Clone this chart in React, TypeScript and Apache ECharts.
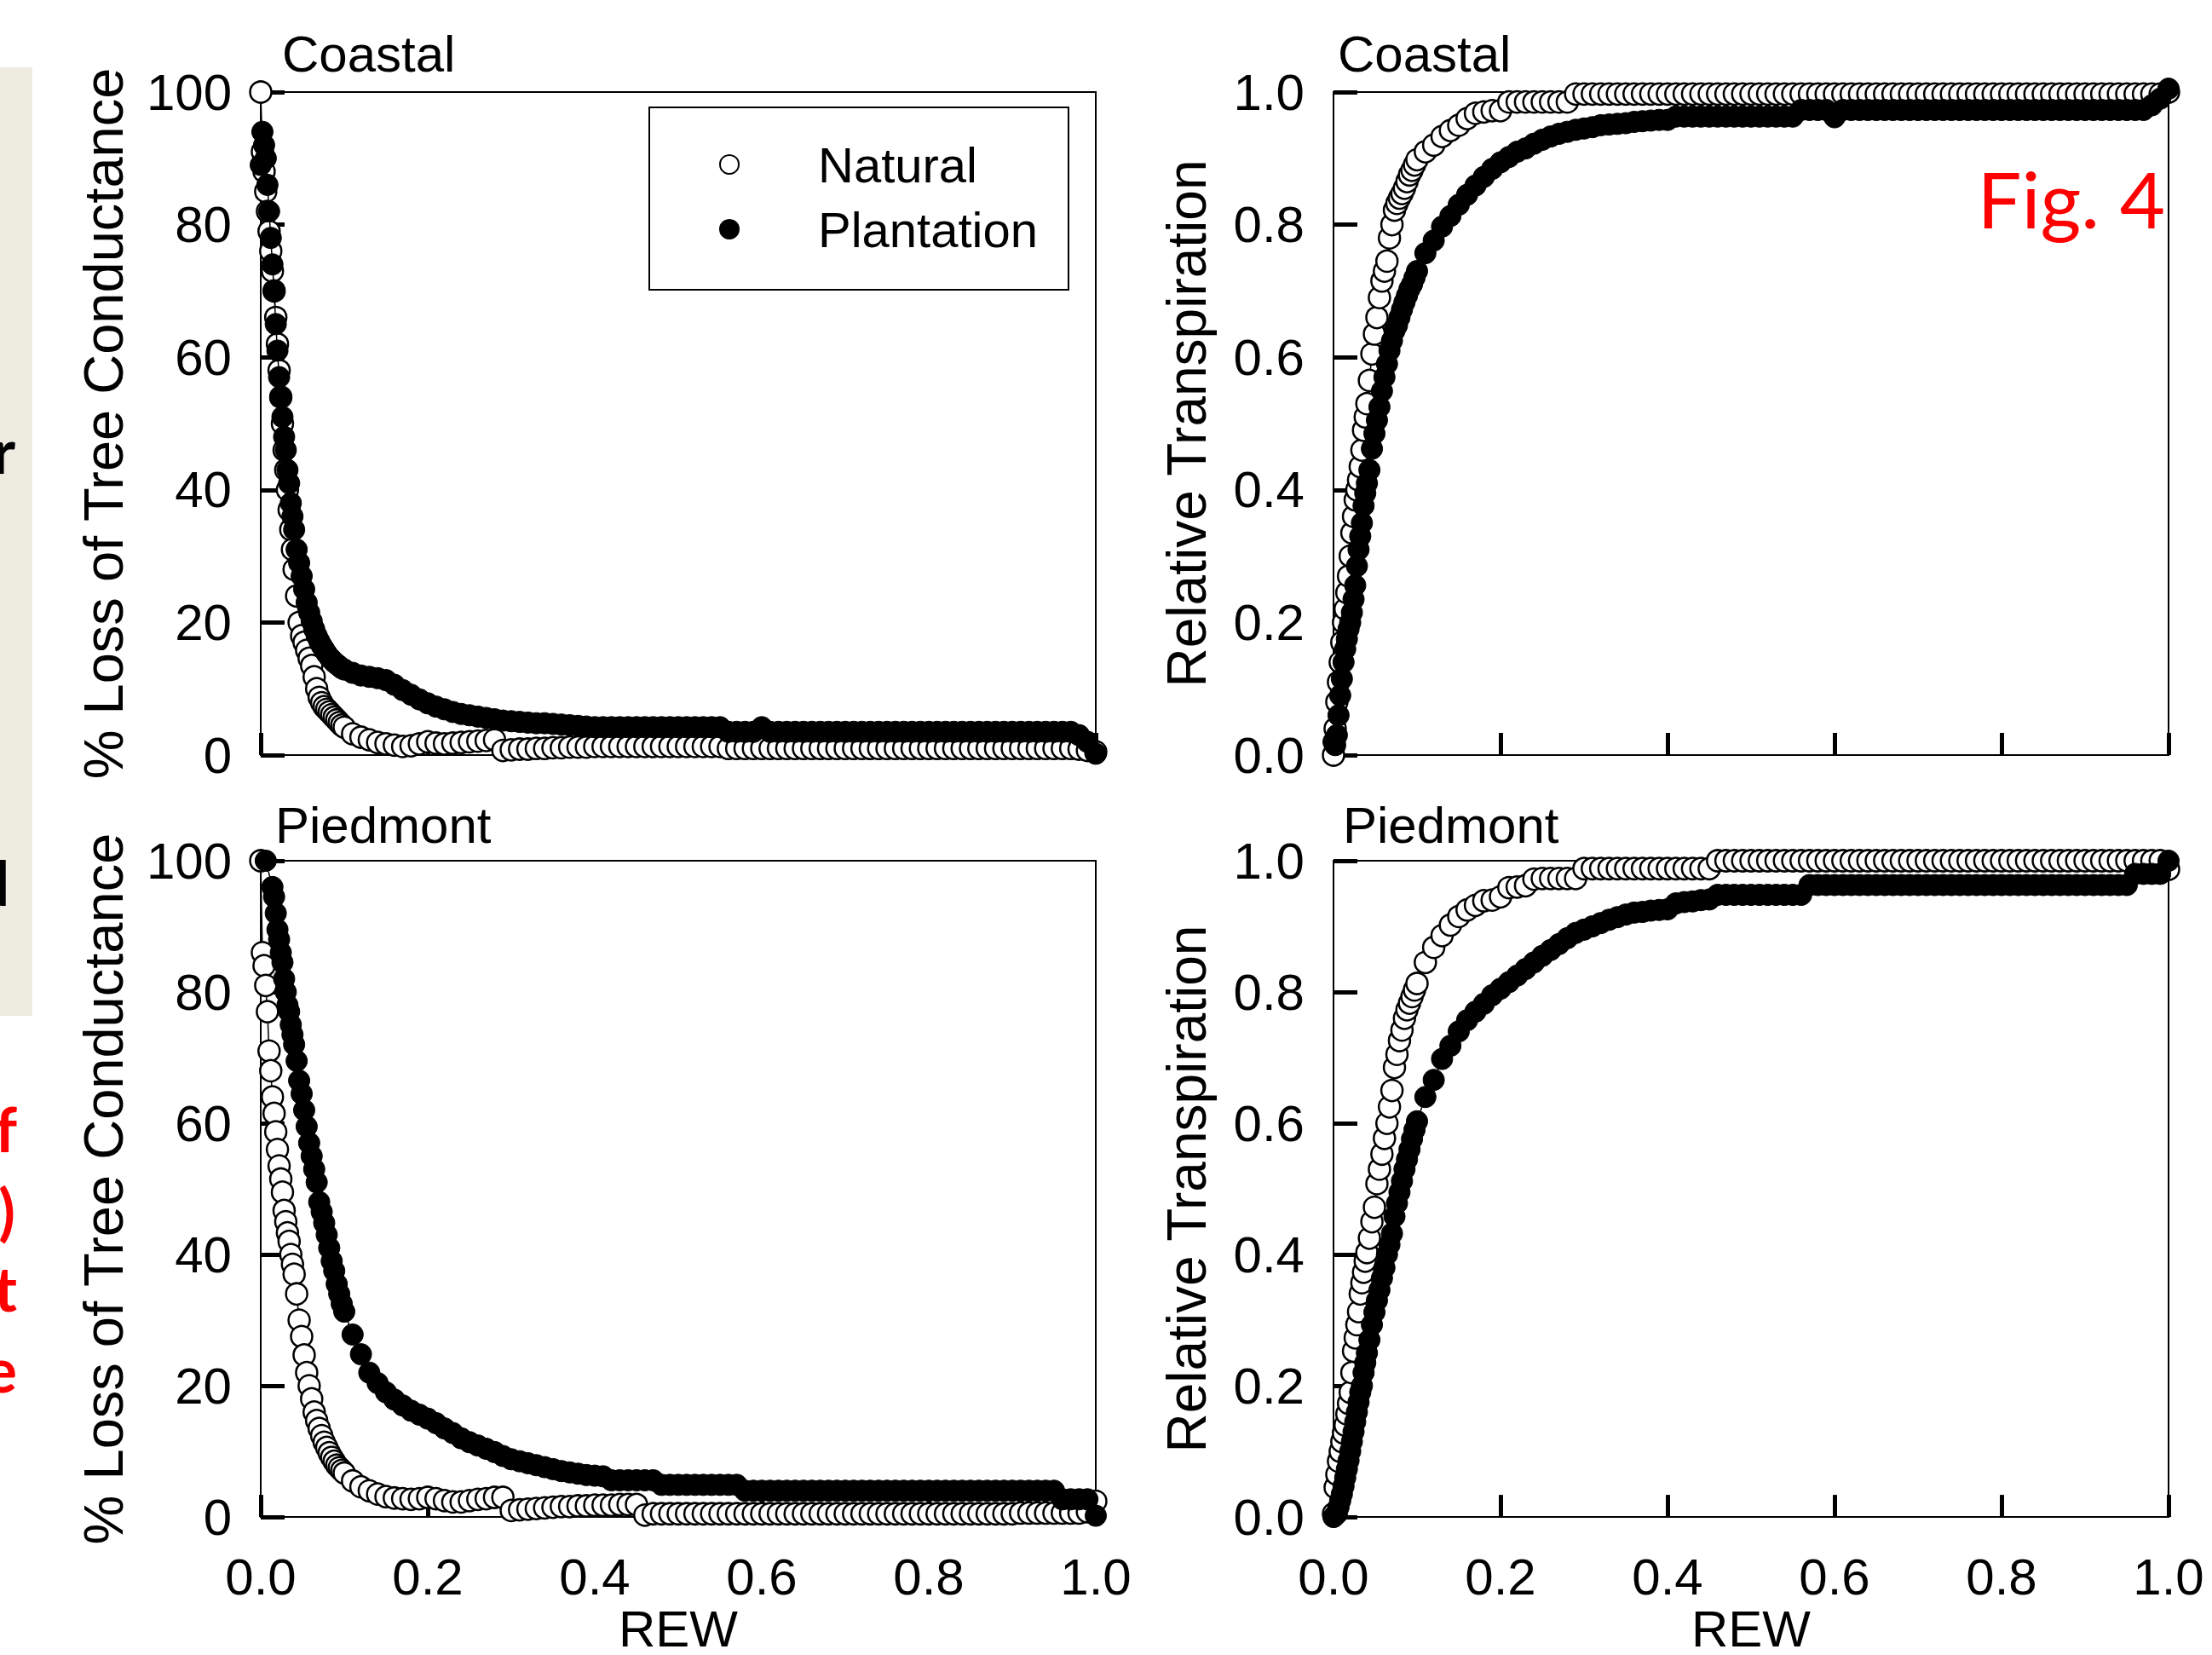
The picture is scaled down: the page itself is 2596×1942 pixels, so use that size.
import React, { useEffect, useRef } from "react";
import * as echarts from "echarts";

// Shared REW sampling grid (x values)
const REW_GRID: number[] = [
  0, 0.002, 0.004, 0.006, 0.008, 0.01, 0.012, 0.014, 0.016, 0.018, 0.02, 0.022, 0.024, 0.026, 0.028, 0.03, 0.032, 0.034, 0.036, 0.038, 0.04,
  0.043, 0.046, 0.049, 0.052, 0.055, 0.058, 0.061, 0.064, 0.067, 0.07, 0.073, 0.076, 0.079, 0.082, 0.085, 0.088, 0.091, 0.094, 0.097, 0.1,
  0.11, 0.12, 0.13, 0.14, 0.15, 0.16, 0.17, 0.18, 0.19, 0.2,
  0.21, 0.22, 0.23, 0.24, 0.25, 0.26, 0.27, 0.28, 0.29, 0.3,
  0.31, 0.32, 0.33, 0.34, 0.35, 0.36, 0.37, 0.38, 0.39, 0.4,
  0.41, 0.42, 0.43, 0.44, 0.45, 0.46, 0.47, 0.48, 0.49, 0.5,
  0.51, 0.52, 0.53, 0.54, 0.55, 0.56, 0.57, 0.58, 0.59, 0.6,
  0.61, 0.62, 0.63, 0.64, 0.65, 0.66, 0.67, 0.68, 0.69, 0.7,
  0.71, 0.72, 0.73, 0.74, 0.75, 0.76, 0.77, 0.78, 0.79, 0.8,
  0.81, 0.82, 0.83, 0.84, 0.85, 0.86, 0.87, 0.88, 0.89, 0.9,
  0.91, 0.92, 0.93, 0.94, 0.95, 0.96, 0.97, 0.98, 0.99, 1.0,
];

// % Loss of Tree Conductance — Coastal
const coastalNaturalLoss: (number | null)[] = [
  100, 91, 88, 85, 82, 79, 76, 73, 70, 66, 62, 58, 54, 50, 46, 43, 40, 37, 34, 31, 28,
  24, 20, 18, 17, 15.8, 14.6, 13.5, 11.8, 10, 8.7, 7.9, 7.3, 6.9, 6.5, 6.1, 5.7, 5.3, 4.9, 4.5, 4.2,
  3.2, 2.7, 2.3, 1.9, 1.7, 1.5, 1.3, 1.4, 1.7, 2.0,
  1.8, 1.7, 1.8, 1.9, 2.0, 2.1, 2.2, 2.3, 0.7, 0.8,
  0.9, 0.9, 1.0, 1.0, 1.1, 1.1, 1.2, 1.2, 1.2, 1.3,
  1.3, 1.3, 1.3, 1.3, 1.3, 1.3, 1.3, 1.3, 1.3, 1.3,
  1.3, 1.3, 1.3, 1.3, 1.3, 1.0, 1.0, 1.0, 1.0, 1.0,
  1.0, 1.0, 1.0, 1.0, 1.0, 1.0, 1.0, 1.0, 1.0, 1.0,
  1.0, 1.0, 1.0, 1.0, 1.0, 1.0, 1.0, 1.0, 1.0, 1.0,
  1.0, 1.0, 1.0, 1.0, 1.0, 1.0, 1.0, 1.0, 1.0, 1.0,
  1.0, 1.0, 1.0, 1.0, 1.0, 1.0, 1.0, 0.9, 0.7, 0.5,
];
const coastalPlantationLoss: (number | null)[] = [
  89, 94, 92, 90, 86, 82, 78, 74, 70, 65, 61, 57, 54, 51, 48, 46, 43, 41, 38, 36, 34,
  31, 29, 27, 25, 23, 21.5, 20.2, 19, 18, 17.2, 16.5, 15.9, 15.3, 14.8, 14.4, 14, 13.7, 13.4, 13.1, 12.9,
  12.4, 12.0, 11.8, 11.6, 11.3, 10.6, 9.8, 9.1, 8.4, 7.8,
  7.3, 6.9, 6.5, 6.2, 6.0, 5.8, 5.6, 5.4, 5.2, 5.1,
  5.0, 4.9, 4.8, 4.8, 4.7, 4.6, 4.5, 4.4, 4.3, 4.2,
  4.2, 4.2, 4.2, 4.2, 4.2, 4.2, 4.2, 4.2, 4.2, 4.2,
  4.2, 4.2, 4.2, 4.2, 4.2, 3.5, 3.5, 3.5, 3.5, 4.2,
  3.5, 3.5, 3.5, 3.5, 3.5, 3.5, 3.5, 3.5, 3.5, 3.5,
  3.5, 3.5, 3.5, 3.5, 3.5, 3.5, 3.5, 3.5, 3.5, 3.5,
  3.5, 3.5, 3.5, 3.5, 3.5, 3.5, 3.5, 3.5, 3.5, 3.5,
  3.5, 3.5, 3.5, 3.5, 3.5, 3.5, 3.5, 3.0, 2.0, 0.2,
];

// % Loss of Tree Conductance — Piedmont
const piedmontNaturalLoss: (number | null)[] = [
  100, 86, 84, 81, 77, 71, 68, 64, 61.5, 58.7, 56, 53.5, 51.5, 49.5, 46.7, 45, 43.3, 42, 40, 38.5, 37,
  34, 30, 27.5, 24.7, 22, 20, 18, 16, 14.7, 13.5, 12.4, 11.4, 10.6, 9.8, 9.1, 8.5, 7.9, 7.5, 7.1, 6.7,
  5.5, 4.6, 4.0, 3.5, 3.1, 2.9, 2.8, 2.7, 2.8, 3.0,
  2.8, 2.5, 2.3, 2.3, 2.5, 2.7, 2.8, 3.0, 3.0, 1.0,
  1.1, 1.2, 1.3, 1.4, 1.5, 1.6, 1.6, 1.7, 1.7, 1.8,
  1.8, 1.8, 1.9, 1.9, 1.9, 0.3, 0.5, 0.5, 0.5, 0.5,
  0.5, 0.5, 0.5, 0.5, 0.5, 0.5, 0.5, 0.5, 0.5, 0.5,
  0.5, 0.5, 0.5, 0.5, 0.5, 0.5, 0.5, 0.5, 0.5, 0.5,
  0.5, 0.5, 0.5, 0.5, 0.5, 0.5, 0.5, 0.5, 0.5, 0.5,
  0.5, 0.5, 0.5, 0.5, 0.5, 0.5, 0.5, 0.5, 0.5, 0.5,
  0.6, 0.6, 0.6, 0.6, 0.6, 0.6, 0.6, 0.6, 0.8, 2.4,
];
const piedmontPlantationLoss: (number | null)[] = [
  null, null, null, 100, null, null, null, 96, 94.5, 92, 89.5, 88, 86, 84.5, 82, 80, 78, 77, 75, 73.5, 72,
  69.5, 66.5, 64.5, 62, 59.5, 57, 55, 53, 51, 48, 46.5, 44.8, 43, 41, 39, 37.5, 35.5, 34, 32.5, 31.3,
  27.8, 24.8, 22.0, 20.4, 19.0, 17.9, 17.0, 16.2, 15.6, 15.0,
  14.3, 13.5, 12.8, 12.0, 11.4, 10.9, 10.4, 9.9, 9.3, 8.8,
  8.5, 8.2, 7.9, 7.6, 7.3, 7.0, 6.8, 6.6, 6.4, 6.3,
  6.2, 5.6, 5.6, 5.6, 5.6, 5.6, 5.6, 4.9, 4.9, 4.9,
  4.9, 4.9, 4.9, 4.9, 4.9, 4.9, 4.9, 4.0, 4.0, 4.0,
  4.0, 4.0, 4.0, 4.0, 4.0, 4.0, 4.0, 4.0, 4.0, 4.0,
  4.0, 4.0, 4.0, 4.0, 4.0, 4.0, 4.0, 4.0, 4.0, 4.0,
  4.0, 4.0, 4.0, 4.0, 4.0, 4.0, 4.0, 4.0, 4.0, 4.0,
  4.0, 4.0, 4.0, 4.0, 4.0, 2.7, 2.7, 2.7, 2.7, 0.2,
];

// Relative Transpiration — Coastal
const coastalNaturalRT: (number | null)[] = [
  0.0, 0.04, 0.08, 0.11, 0.14, 0.17, 0.2, 0.22, 0.245, 0.27, 0.3, 0.335, 0.36, 0.385, 0.4, 0.415, 0.435, 0.46, 0.49, 0.51, 0.53,
  0.565, 0.605, 0.635, 0.66, 0.69, 0.715, 0.73, 0.745, 0.78, 0.8, 0.822, 0.832, 0.84, 0.847, 0.855, 0.865, 0.875, 0.882, 0.89, 0.898,
  0.91, 0.92, 0.933, 0.942, 0.95, 0.96, 0.968, 0.97, 0.972, 0.972,
  0.985, 0.985, 0.985, 0.985, 0.985, 0.985, 0.985, 0.985, 0.997, 0.997,
  0.997, 0.997, 0.997, 0.997, 0.997, 0.997, 0.997, 0.997, 0.997, 0.997,
  0.997, 0.997, 0.997, 0.997, 0.997, 0.997, 0.997, 0.997, 0.997, 0.997,
  0.997, 0.997, 0.997, 0.997, 0.997, 0.997, 0.997, 0.997, 0.997, 0.997,
  0.997, 0.997, 0.997, 0.997, 0.997, 0.997, 0.997, 0.997, 0.997, 0.997,
  0.997, 0.997, 0.997, 0.997, 0.997, 0.997, 0.997, 0.997, 0.997, 0.997,
  0.997, 0.997, 0.997, 0.997, 0.997, 0.997, 0.997, 0.997, 0.997, 0.997,
  0.997, 0.997, 0.997, 0.997, 0.997, 0.997, 0.997, 0.997, 0.997, 1.0,
];
const coastalPlantationRT: (number | null)[] = [
  0.02, 0.015, 0.03, 0.06, 0.09, 0.115, 0.14, 0.16, 0.175, 0.19, 0.2, 0.215, 0.235, 0.256, 0.285, 0.31, 0.33, 0.35, 0.376, 0.395, 0.41,
  0.43, 0.462, 0.485, 0.505, 0.525, 0.549, 0.57, 0.59, 0.61, 0.625, 0.64, 0.648, 0.66, 0.672, 0.683, 0.693, 0.703, 0.71, 0.72, 0.73,
  0.757, 0.776, 0.797, 0.813, 0.83, 0.845, 0.859, 0.872, 0.884, 0.894,
  0.902, 0.91, 0.915, 0.922, 0.928, 0.933, 0.937, 0.94, 0.943, 0.945,
  0.947, 0.95, 0.951, 0.952, 0.953, 0.955, 0.956, 0.957, 0.958, 0.958,
  0.963, 0.963, 0.963, 0.963, 0.963, 0.963, 0.963, 0.963, 0.963, 0.963,
  0.963, 0.963, 0.963, 0.963, 0.963, 0.973, 0.973, 0.973, 0.973, 0.962,
  0.973, 0.973, 0.973, 0.973, 0.973, 0.973, 0.973, 0.973, 0.973, 0.973,
  0.973, 0.973, 0.973, 0.973, 0.973, 0.973, 0.973, 0.973, 0.973, 0.973,
  0.973, 0.973, 0.973, 0.973, 0.973, 0.973, 0.973, 0.973, 0.973, 0.973,
  0.973, 0.973, 0.973, 0.973, 0.973, 0.973, 0.973, 0.98, 0.99, 1.005,
];

// Relative Transpiration — Piedmont
const piedmontNaturalRT: (number | null)[] = [
  0.005, 0.045, 0.065, 0.085, 0.1, 0.115, 0.128, 0.14, 0.157, 0.173, 0.19, 0.22, 0.253, 0.273, 0.293, 0.313, 0.34, 0.357, 0.373, 0.39, 0.403,
  0.425, 0.45, 0.472, 0.508, 0.53, 0.553, 0.577, 0.6, 0.625, 0.65, 0.685, 0.705, 0.726, 0.742, 0.76, 0.773, 0.783, 0.793, 0.803, 0.813,
  0.845, 0.868, 0.886, 0.902, 0.915, 0.925, 0.932, 0.939, 0.94, 0.945,
  0.959, 0.96, 0.962, 0.972, 0.973, 0.973, 0.973, 0.973, 0.973, 0.988,
  0.988, 0.988, 0.988, 0.988, 0.988, 0.988, 0.988, 0.988, 0.988, 0.988,
  0.988, 0.988, 0.988, 0.988, 0.988, 1.0, 1.0, 1.0, 1.0, 1.0,
  1.0, 1.0, 1.0, 1.0, 1.0, 1.0, 1.0, 1.0, 1.0, 1.0,
  1.0, 1.0, 1.0, 1.0, 1.0, 1.0, 1.0, 1.0, 1.0, 1.0,
  1.0, 1.0, 1.0, 1.0, 1.0, 1.0, 1.0, 1.0, 1.0, 1.0,
  1.0, 1.0, 1.0, 1.0, 1.0, 1.0, 1.0, 1.0, 1.0, 1.0,
  1.0, 1.0, 1.0, 1.0, 1.0, 1.0, 1.0, 1.0, 1.0, 0.987,
];
const piedmontPlantationRT: (number | null)[] = [
  0.0, 0.003, 0.005, 0.015, 0.025, 0.035, 0.047, 0.06, 0.073, 0.086, 0.1, 0.115, 0.13, 0.145, 0.16, 0.175, 0.19, 0.2, 0.22, 0.235, 0.25,
  0.27, 0.293, 0.312, 0.33, 0.346, 0.364, 0.38, 0.4, 0.415, 0.432, 0.458, 0.478, 0.495, 0.512, 0.53, 0.545, 0.56, 0.576, 0.59, 0.603,
  0.64, 0.666, 0.698, 0.718, 0.74, 0.757, 0.77, 0.782, 0.795, 0.805,
  0.815, 0.825, 0.835, 0.845, 0.855, 0.864, 0.873, 0.882, 0.89, 0.895,
  0.9, 0.905, 0.91, 0.914, 0.918, 0.921, 0.922, 0.924, 0.925, 0.926,
  0.935, 0.937, 0.938, 0.94, 0.941, 0.948, 0.948, 0.948, 0.948, 0.948,
  0.948, 0.948, 0.948, 0.948, 0.948, 0.948, 0.963, 0.963, 0.963, 0.963,
  0.963, 0.963, 0.963, 0.963, 0.963, 0.963, 0.963, 0.963, 0.963, 0.963,
  0.963, 0.963, 0.963, 0.963, 0.963, 0.963, 0.963, 0.963, 0.963, 0.963,
  0.963, 0.963, 0.963, 0.963, 0.963, 0.963, 0.963, 0.963, 0.963, 0.963,
  0.963, 0.963, 0.963, 0.963, 0.963, 0.98, 0.98, 0.98, 0.98, 1.0,
];

const PANEL_TITLES = ["Coastal", "Coastal", "Piedmont", "Piedmont"];
const X_NAME = "REW";
const Y_NAMES = ["% Loss of Tree Conductance", "Relative Transpiration"];

const FONT = "'Liberation Sans', Arial, sans-serif";

function toPoints(ys: (number | null)[]) {
  const out: number[][] = [];
  for (let i = 0; i < REW_GRID.length && i < ys.length; i++) {
    const y = ys[i];
    if (y !== null && y !== undefined) out.push([REW_GRID[i], y]);
  }
  return out;
}

export default function App() {
  const ref = useRef<HTMLDivElement>(null);

  useEffect(() => {
    if (!ref.current) return;
    const chart = echarts.init(ref.current, null, { renderer: "svg" });

    const grids = [
      { left: 306, top: 108, width: 980, height: 778 },
      { left: 1565, top: 108, width: 980, height: 778 },
      { left: 306, top: 1010, width: 980, height: 778 },
      { left: 1565, top: 1010, width: 980, height: 778 },
    ].map((g) => ({ ...g, show: true, borderColor: "#000", borderWidth: 2, backgroundColor: "transparent" }));

    const xAxes = [0, 1, 2, 3].map((i) => ({
      gridIndex: i,
      type: "value",
      min: 0,
      max: 1,
      interval: 0.2,
      splitLine: { show: false },
      axisLine: { show: true, lineStyle: { color: "#000", width: 2 } },
      axisTick: { show: true, inside: true, length: 26, lineStyle: { color: "#000", width: 5 } },
      axisLabel: {
        show: i >= 2,
        fontSize: 60,
        color: "#000",
        fontFamily: FONT,
        margin: 40,
        formatter: (v: number) => v.toFixed(1),
      },
      name: i >= 2 ? X_NAME : "",
      nameLocation: "middle",
      nameGap: 100,
      nameTextStyle: { fontSize: 60, color: "#000", fontFamily: FONT },
    }));

    const yAxes = [0, 1, 2, 3].map((i) => {
      const isLoss = i % 2 === 0;
      return {
        gridIndex: i,
        type: "value",
        min: 0,
        max: isLoss ? 100 : 1,
        interval: isLoss ? 20 : 0.2,
        splitLine: { show: false },
        axisLine: { show: true, lineStyle: { color: "#000", width: 2 } },
        axisTick: { show: true, inside: true, length: 28, lineStyle: { color: "#000", width: 5 } },
        axisLabel: {
          fontSize: 60,
          color: "#000",
          fontFamily: FONT,
          margin: 34,
          formatter: (v: number) => (isLoss ? String(Math.round(v)) : v.toFixed(1)),
        },
        name: isLoss ? Y_NAMES[0] : Y_NAMES[1],
        nameLocation: "middle",
        nameGap: isLoss ? 152 : 140,
        nameTextStyle: { fontSize: isLoss ? 65 : 64, color: "#000", fontFamily: FONT },
      };
    });

    const panels = [
      { nat: coastalNaturalLoss, pla: coastalPlantationLoss },
      { nat: coastalNaturalRT, pla: coastalPlantationRT },
      { nat: piedmontNaturalLoss, pla: piedmontPlantationLoss },
      { nat: piedmontNaturalRT, pla: piedmontPlantationRT },
    ];

    const series: any[] = [];
    panels.forEach((p, i) => {
      series.push({
        type: "line",
        name: "Natural",
        xAxisIndex: i,
        yAxisIndex: i,
        data: toPoints(p.nat),
        symbol: "circle",
        symbolSize: 25,
        showSymbol: true,
        clip: false,
        z: 3,
        lineStyle: { color: "#000", width: 1.5 },
        itemStyle: { color: "#fff", borderColor: "#000", borderWidth: 2.5 },
        emphasis: { disabled: true },
      });
      series.push({
        type: "line",
        name: "Plantation",
        xAxisIndex: i,
        yAxisIndex: i,
        data: toPoints(p.pla),
        symbol: "circle",
        symbolSize: 25,
        showSymbol: true,
        clip: false,
        z: 4,
        lineStyle: { color: "#000", width: 1.5 },
        itemStyle: { color: "#000", borderColor: "#000", borderWidth: 1 },
        emphasis: { disabled: true },
      });
    });

    const titlePos = [
      { x: 331, y: 63 },
      { x: 1570, y: 63 },
      { x: 323, y: 968 },
      { x: 1576, y: 968 },
    ];

    const graphics: any[] = [
      { type: "rect", shape: { x: 0, y: 79, width: 38, height: 1113 }, style: { fill: "#EEECE1" }, z: 0 },
      ...titlePos.map((t, i) => ({
        type: "text",
        x: t.x,
        y: t.y,
        style: {
          text: PANEL_TITLES[i],
          font: `60px ${FONT}`,
          fill: "#000",
          textAlign: "left",
          textVerticalAlign: "middle",
          align: "left",
          verticalAlign: "middle",
        },
        z: 10,
      })),
      {
        type: "text",
        x: 2541,
        y: 232,
        style: {
          text: "Fig. 4",
          font: "92px Lato, 'Open Sans', sans-serif",
          fill: "#FF0000",
          textAlign: "right",
          textVerticalAlign: "middle",
          align: "right",
          verticalAlign: "middle",
        },
        z: 10,
      },
      ...[
        { t: "r", x: 18, y: 528, c: "#000" },
        { t: "d", x: 11, y: 1035, c: "#000" },
        { t: "f", x: 20, y: 1324, c: "#FF0000" },
        { t: ")", x: 18, y: 1420, c: "#FF0000" },
        { t: "t", x: 20, y: 1511, c: "#FF0000" },
        { t: "e", x: 20, y: 1606, c: "#FF0000" },
      ].map((c) => ({
        type: "text",
        x: c.x,
        y: c.y,
        style: {
          text: c.t,
          font: "bold 72px Lato, sans-serif",
          fill: c.c,
          textAlign: "right",
          textVerticalAlign: "middle",
          align: "right",
          verticalAlign: "middle",
        },
        z: 10,
      })),
    ];

    chart.setOption({
      animation: false,
      backgroundColor: "#fff",
      grid: grids,
      xAxis: xAxes,
      yAxis: yAxes,
      series,
      legend: {
        show: true,
        orient: "vertical",
        left: 762,
        top: 126,
        itemWidth: 22,
        itemHeight: 22,
        itemGap: 18,
        padding: [38, 36, 42, 82],
        borderColor: "#000",
        borderWidth: 2,
        backgroundColor: "#fff",
        selectedMode: false,
        textStyle: { fontSize: 58, color: "#000", fontFamily: FONT, padding: [0, 0, 0, 88] },
        data: [
          { name: "Natural", icon: "circle" },
          { name: "Plantation", icon: "circle" },
        ],
      },
      graphic: graphics,
    });

    return () => chart.dispose();
  }, []);

  return (
    <div
      ref={ref}
      style={{ position: "fixed", left: 0, top: 0, width: 2596, height: 1942, background: "#fff" }}
    />
  );
}
